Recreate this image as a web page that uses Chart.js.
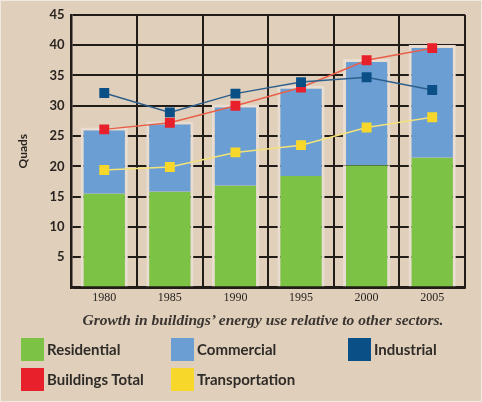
<!DOCTYPE html>
<html>
<head>
<meta charset="utf-8">
<script src="https://cdn.jsdelivr.net/npm/chart.js@4/dist/chart.umd.min.js"></script>
<style>
  html, body { margin: 0; padding: 0; background: #f1e9df; }
  #wrap { position: relative; width: 480px; height: 400px; margin: 1px; background: #dfcfbb; overflow: hidden; }
  #chart { position: absolute; left: -1px; top: -1px; }
  #caption { position: absolute; left: 50px; width: 424px; top: 310px; text-align: center;
    font: italic bold 15.5px "Liberation Serif", serif; color: #3a3530; }
  .item { position: absolute; font: bold 15px Lato, sans-serif; color: #2f2b27; height: 23px; line-height: 23px; }
  .item span { display: inline-block; width: 23px; height: 23px; vertical-align: top; margin-right: 3px; }
</style>
</head>
<body>
<div id="wrap">
  <canvas id="chart" width="482" height="402"></canvas>
  <div id="caption">Growth in buildings’ energy use relative to other sectors.</div>
  <div id="legend"></div>
</div>
<script>
const years = ["1980", "1985", "1990", "1995", "2000", "2005"];
const residential = [15.5, 15.8, 16.8, 18.4, 20.2, 21.4];
const commercial = [10.9, 11.6, 13.4, 14.9, 17.5, 18.6];
const industrial = [32.1, 28.9, 32.0, 33.9, 34.7, 32.6];
const buildingsTotal = [26.1, 27.2, 30.0, 33.0, 37.5, 39.5];
const transportation = [19.4, 19.9, 22.3, 23.5, 26.4, 28.1];
const yTicks = [5, 10, 15, 20, 25, 30, 35, 40, 45];

const halo = '#e8ddd0';

const datasets = [
  {
    type: 'bar', label: 'Residential', data: residential, stack: 'bars', order: 5,
    backgroundColor: '#7cc244', borderColor: halo,
    borderWidth: { left: 3, right: 3, top: 0, bottom: 0 }, borderSkipped: false
  },
  {
    type: 'bar', label: 'Commercial', data: commercial, stack: 'bars', order: 5,
    backgroundColor: '#6b9fd3', borderColor: halo,
    borderWidth: { left: 3, right: 3, top: 3, bottom: 0 }, borderSkipped: false
  },
  {
    type: 'line', label: 'Industrial', data: industrial, stack: 'ind', order: 1,
    borderColor: '#2e5f8c', backgroundColor: '#0b4f87', borderWidth: 1.5,
    pointStyle: 'rect', pointRadius: 7, pointBorderWidth: 0
  },
  {
    type: 'line', label: 'Buildings Total', data: buildingsTotal, stack: 'tot', order: 2,
    borderColor: '#e8604a', backgroundColor: '#e8202c', borderWidth: 1.5,
    pointStyle: 'rect', pointRadius: 7, pointBorderWidth: 0
  },
  {
    type: 'line', label: 'Transportation', data: transportation, stack: 'trans', order: 3,
    borderColor: '#f3e27a', backgroundColor: '#f7d82a', borderWidth: 1.5,
    pointStyle: 'rect', pointRadius: 7, pointBorderWidth: 0
  }
];

new Chart(document.getElementById('chart').getContext('2d'), {
  data: { labels: years, datasets: datasets },
  options: {
    responsive: false,
    animation: false,
    layout: { padding: { top: 6, right: 17, bottom: 94, left: 16 } },
    scales: {
      x: {
        stacked: true,
        categoryPercentage: 1,
        barPercentage: 0.8,
        grid: { color: '#221c18', lineWidth: 2, offset: true, tickLength: 0 },
        border: { color: '#221c18', width: 2.5 },
        ticks: { color: '#2a2420', font: { family: 'Liberation Serif', size: 12 }, padding: 3 }
      },
      y: {
        stacked: true,
        min: 0, max: 45,
        afterBuildTicks: function(axis) {
          axis.ticks = [0].concat(yTicks).map(function(v) { return { value: v }; });
        },
        ticks: {
          color: '#2a2420',
          font: { family: 'Lato', size: 13, weight: 'bold' },
          padding: 7,
          callback: function(value) { return value === 0 ? '' : value; }
        },
        grid: { color: '#221c18', lineWidth: 2, tickLength: 0 },
        border: { color: '#221c18', width: 2.5 },
        title: { display: true, text: 'Quads', color: '#2a2420',
          font: { family: 'Lato', size: 12, weight: 'bold' }, padding: { top: 0, bottom: 12 } }
      }
    },
    plugins: {
      legend: { display: false },
      tooltip: { enabled: false }
    }
  }
});

// legend built from the datasets
const spots = [[20, 337], [170, 337], [347, 337], [20, 367], [170, 367]];
const legend = document.getElementById('legend');
datasets.forEach(function(ds, i) {
  const el = document.createElement('div');
  el.className = 'item';
  el.style.left = spots[i][0] + 'px';
  el.style.top = spots[i][1] + 'px';
  el.innerHTML = '<span style="background:' + ds.backgroundColor + '"></span>' + ds.label;
  legend.appendChild(el);
});
</script>
</body>
</html>
